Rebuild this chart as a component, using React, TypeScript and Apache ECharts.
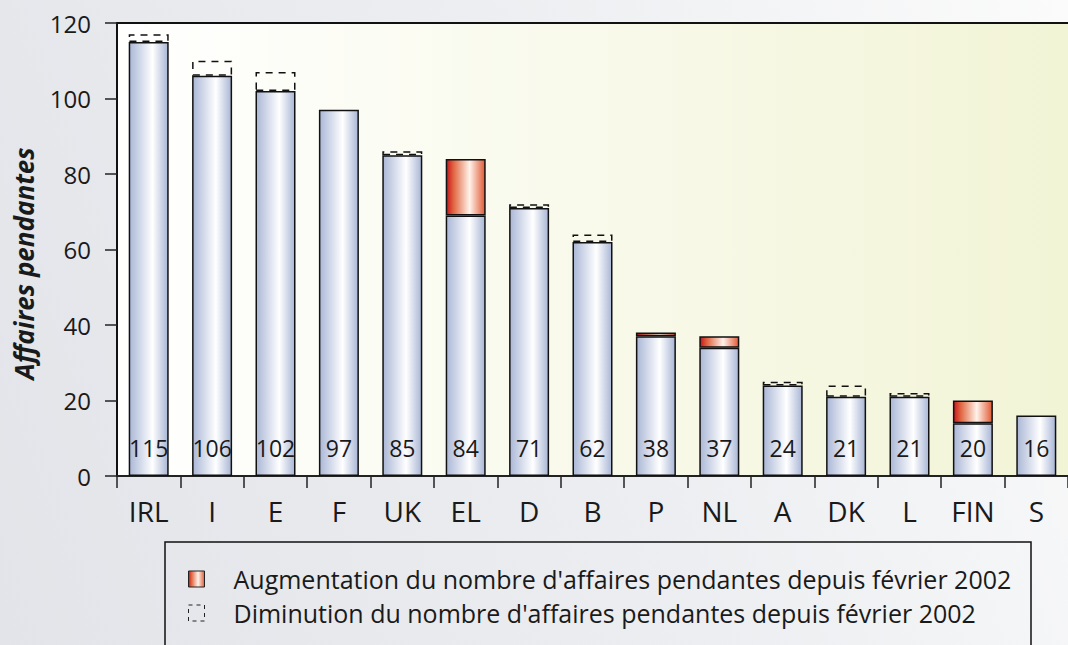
import React, { useEffect, useRef } from "react";
import * as echarts from "echarts";

const categories = ["IRL", "I", "E", "F", "UK", "EL", "D", "B", "P", "NL", "A", "DK", "L", "FIN", "S"];
// pending cases now
const current = [115, 106, 102, 97, 85, 84, 71, 62, 38, 37, 24, 21, 21, 20, 16];
// pending cases in February 2002
const feb2002 = [117, 110, 107, 97, 86, 69, 72, 64, 37, 34, 25, 24, 22, 14, 16];
const yTicks = [0, 20, 40, 60, 80, 100, 120];

const legendUp = "Augmentation du nombre d'affaires pendantes depuis février 2002";
const legendDown = "Diminution du nombre d'affaires pendantes depuis février 2002";
const yTitle = "Affaires pendantes";

const FONT = "'Open Sans', 'DejaVu Sans', sans-serif";

export default function App() {
  const ref = useRef<HTMLDivElement>(null);
  useEffect(() => {
    if (!ref.current) return;
    const chart = echarts.init(ref.current, null, { renderer: "svg" });
    const base = current.map((v, i) => Math.min(v, feb2002[i]));
    const up = current.map((v, i) => (v > feb2002[i] ? v - feb2002[i] : null));
    const down = current.map((v, i) => (feb2002[i] > v ? feb2002[i] - v : null));

    const blue = new echarts.graphic.LinearGradient(0, 0, 1, 0, [
      { offset: 0, color: "#aab7d6" },
      { offset: 0.6, color: "#ffffff" },
      { offset: 1, color: "#a9b6d5" },
    ]);
    const red = new echarts.graphic.LinearGradient(0, 0, 1, 0, [
      { offset: 0, color: "#c8141e" },
      { offset: 0.18, color: "#e0643f" },
      { offset: 0.6, color: "#fff3ea" },
      { offset: 1, color: "#e05a36" },
    ]);

    chart.setOption({
      animation: false,
      textStyle: { fontFamily: FONT },
      grid: {
        left: 117,
        top: 23,
        right: -9,
        bottom: 169,
        show: true,
        borderWidth: 0,
        backgroundColor: new echarts.graphic.LinearGradient(0, 0, 1, 0, [
          { offset: 0, color: "#ffffff" },
          { offset: 1, color: "#f2f4d6" },
        ]),
      },
      legend: {
        orient: "vertical",
        left: 188,
        top: 566,
        padding: 0,
        itemWidth: 16,
        itemHeight: 16,
        itemGap: 8,
        icon: "rect",
        selectedMode: false,
        textStyle: {
          fontFamily: FONT,
          fontSize: 25,
          color: "#1a1a1a",
          lineHeight: 26,
          padding: [0, 0, 0, 24],
        },
        data: [
          { name: legendUp, itemStyle: { color: red, borderColor: "#222", borderWidth: 1 } },
          {
            name: legendDown,
            itemStyle: { color: "transparent", borderColor: "#222", borderWidth: 1, borderType: [4, 4] },
          },
        ],
      },
      graphic: [
        {
          type: "rect",
          shape: { x: 165, y: 542, width: 866, height: 130 },
          style: { fill: "transparent", stroke: "#111", lineWidth: 1.5 },
          silent: true,
          z: -1,
        },
      ],
      xAxis: [
        {
          type: "category",
          data: categories,
          position: "bottom",
          axisLine: { show: true, lineStyle: { color: "#222", width: 2 } },
          axisTick: { show: true, length: 12, lineStyle: { color: "#222", width: 1.5 } },
          axisLabel: { fontFamily: FONT, fontSize: 28, color: "#1a1a1a", margin: 21 },
        },
        {
          type: "category",
          data: categories,
          position: "top",
          axisLine: { show: true, lineStyle: { color: "#111", width: 2 } },
          axisTick: { show: false },
          axisLabel: { show: false },
        },
      ],
      yAxis: {
        type: "value",
        min: 0,
        max: 120,
        interval: 20,
        name: yTitle,
        nameLocation: "middle",
        nameGap: 80,
        nameTextStyle: {
          fontFamily: FONT,
          fontSize: 26,
          fontWeight: "bold",
          fontStyle: "italic",
          color: "#1a1a1a",
          padding: [0, 28, 0, 0],
        },
        axisLine: { show: true, lineStyle: { color: "#111", width: 2 } },
        axisTick: { show: true, length: 12, lineStyle: { color: "#222", width: 1.5 } },
        axisLabel: {
          fontFamily: FONT,
          fontSize: 24,
          color: "#1a1a1a",
          margin: 26,
          formatter: (v: number) => (yTicks.includes(v) ? String(v) : ""),
        },
        splitLine: { show: false },
      },
      series: [
        {
          name: "base",
          type: "bar",
          stack: "s",
          barWidth: 40,
          data: base,
          itemStyle: { color: blue, borderColor: "#111", borderWidth: 1.5 },
          label: {
            show: true,
            position: "insideBottom",
            distance: 17,
            fontFamily: FONT,
            fontSize: 23,
            color: "#1a1a1a",
            formatter: (p: any) => String(current[p.dataIndex]),
          },
        },
        {
          name: legendUp,
          type: "bar",
          stack: "s",
          barWidth: 40,
          data: up,
          itemStyle: { color: red, borderColor: "#111", borderWidth: 1.5 },
        },
        {
          name: legendDown,
          type: "bar",
          stack: "s",
          barWidth: 40,
          data: down,
          itemStyle: { color: "transparent", borderColor: "#111", borderWidth: 1.5, borderType: [7, 6] },
        },
      ],
    });
    return () => chart.dispose();
  }, []);
  return (
    <div
      ref={ref}
      style={{
        position: "fixed",
        left: 0,
        top: 0,
        width: 1068,
        height: 645,
        background: "linear-gradient(70deg, #e2e4e9 0%, #eceef1 55%, #fbfbfb 100%)",
      }}
    />
  );
}
